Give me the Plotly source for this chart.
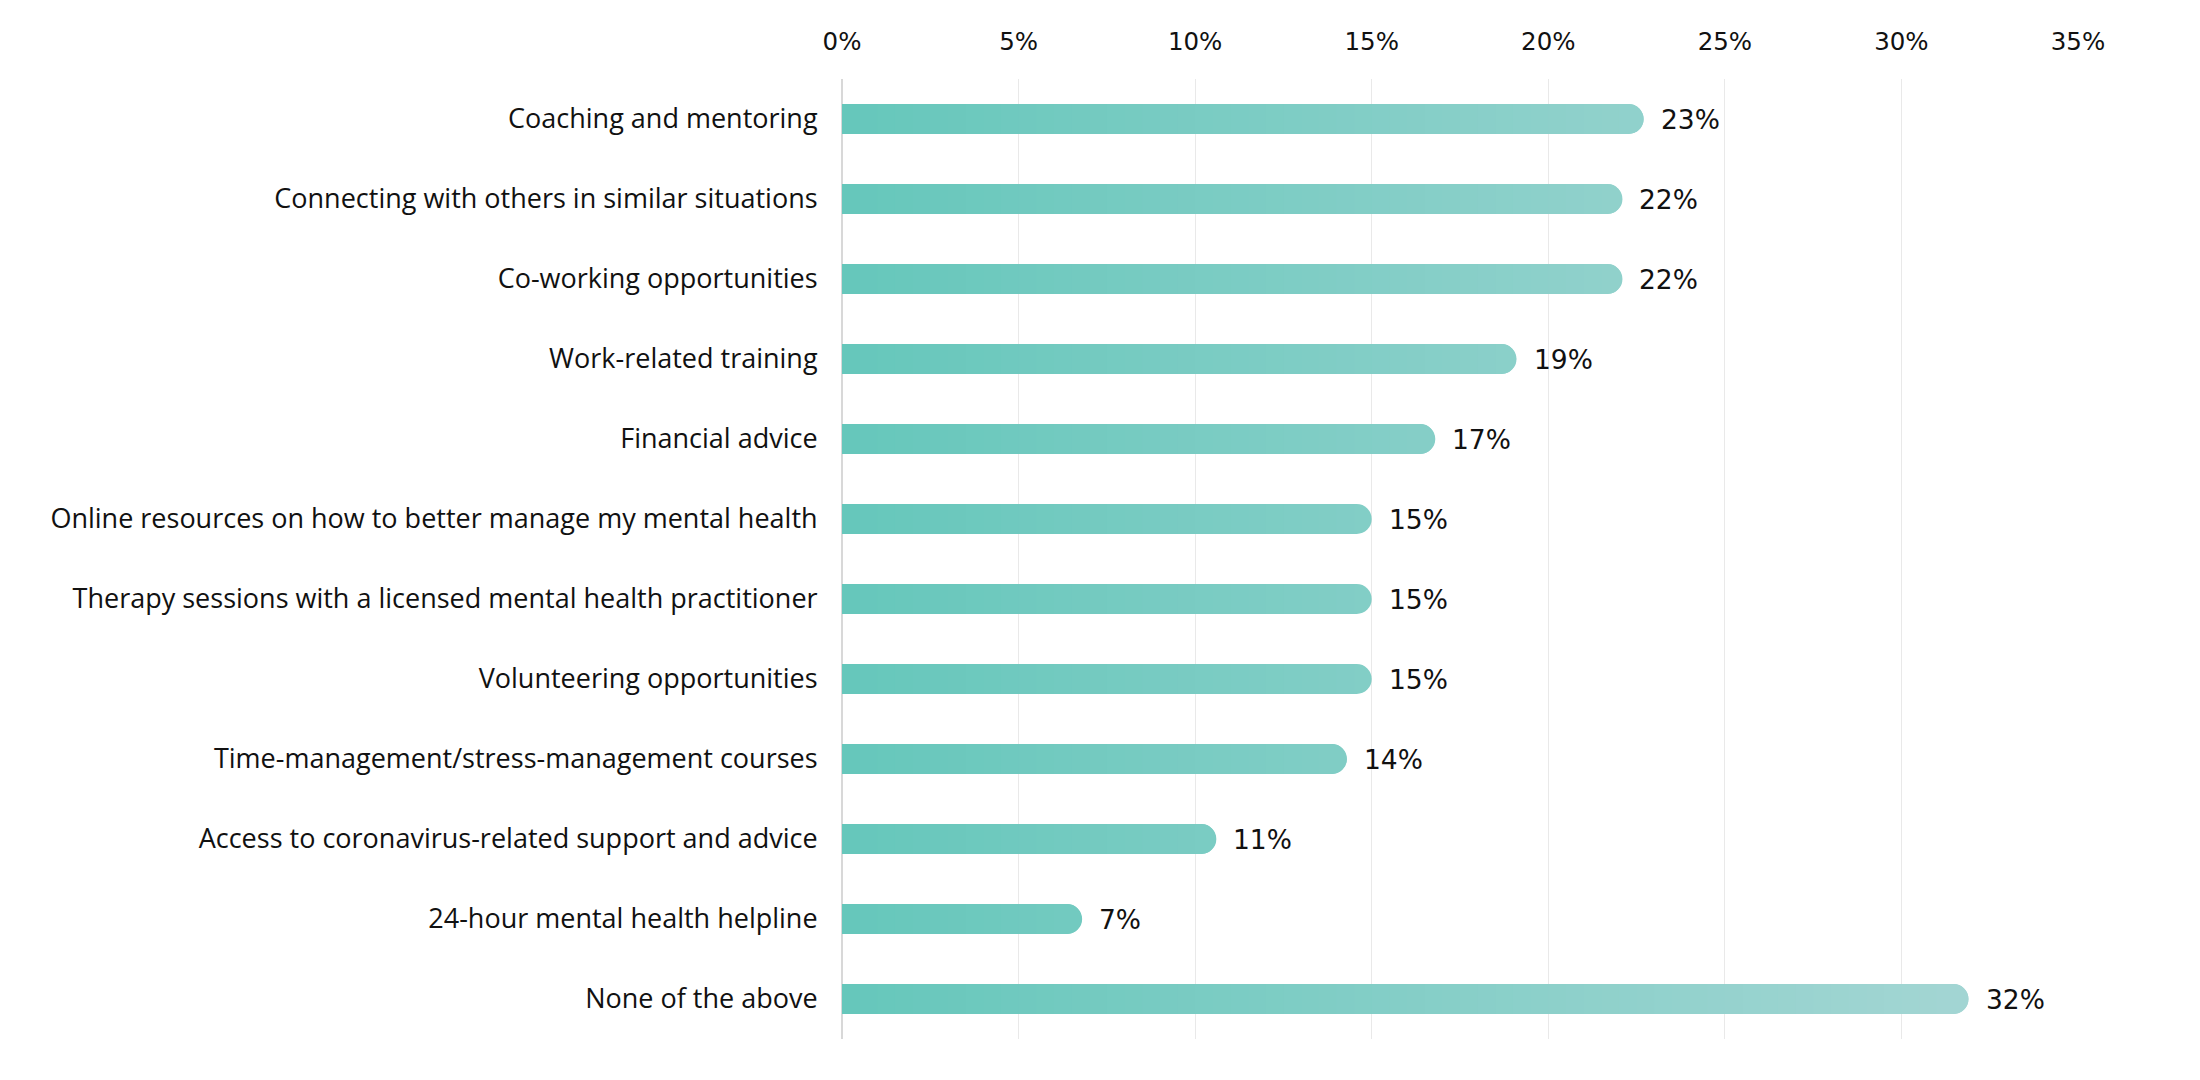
import plotly.graph_objects as go

categories = [
    "Coaching and mentoring",
    "Connecting with others in similar situations",
    "Co-working opportunities",
    "Work-related training",
    "Financial advice",
    "Online resources on how to better manage my mental health",
    "Therapy sessions with a licensed mental health practitioner",
    "Volunteering opportunities",
    "Time-management/stress-management courses",
    "Access to coronavirus-related support and advice",
    "24-hour mental health helpline",
    "None of the above",
]
values = [22.7, 22.1, 22.1, 19.1, 16.8, 15.0, 15.0, 15.0, 14.3, 10.6, 6.8, 31.9]
tick_vals = [0, 5, 10, 15, 20, 25, 30, 35]
tick_text = ["0%", "5%", "10%", "15%", "20%", "25%", "30%", "35%"]

# gradient runs along the x axis, dark teal on the left to pale teal on the right
c_start = (102, 199, 187)
c_end = (165, 214, 212)
grad_span = 33.0
step = 0.5


def grad_color(p):
    t = min(max(p / grad_span, 0), 1)
    r, g, b = (round(a + (e - a) * t) for a, e in zip(c_start, c_end))
    return f"rgb({r},{g},{b})"


fig = go.Figure()

# overlaid bars: longest (lightest) first, shorter (darker) drawn on top
n_steps = int(max(values) / step) + 1
for k in reversed(range(n_steps)):
    xs = [min(v, (k + 1) * step) if k * step < v else None for v in values]
    fig.add_trace(go.Bar(
        x=xs, y=categories, orientation="h",
        marker=dict(color=grad_color(k * step + step / 2), line=dict(width=0), cornerradius=15),
        width=0.375, showlegend=False, hoverinfo="skip",
    ))

for cat, v in zip(categories, values):
    fig.add_annotation(
        x=v, y=cat, text=f"{round(v)}%", showarrow=False,
        xanchor="left", xshift=15,
        font=dict(family="DejaVu Sans", size=26.5, color="#111111"),
    )

fig.update_layout(
    width=2200, height=1080,
    barmode="overlay",
    plot_bgcolor="white", paper_bgcolor="white",
    margin=dict(l=834, r=130, t=71, b=49),
    font=dict(family="Open Sans", size=27, color="#111111"),
)
fig.update_xaxes(
    range=[0, 35], side="top",
    tickvals=tick_vals, ticktext=tick_text,
    tickfont=dict(family="DejaVu Sans", size=24.5, color="#111111"),
    ticks="outside", ticklen=18, tickcolor="rgba(0,0,0,0)",
    showgrid=True, gridcolor="#e9e9e9", gridwidth=1,
    zeroline=True, zerolinecolor="#d8d8d8", zerolinewidth=2,
    fixedrange=True,
)
fig.update_yaxes(
    autorange="reversed",
    ticks="outside", ticklen=18, tickcolor="rgba(0,0,0,0)",
    tickfont=dict(family="Open Sans", size=27, color="#111111"),
    showgrid=False,
)

fig.write_html("out.html")
